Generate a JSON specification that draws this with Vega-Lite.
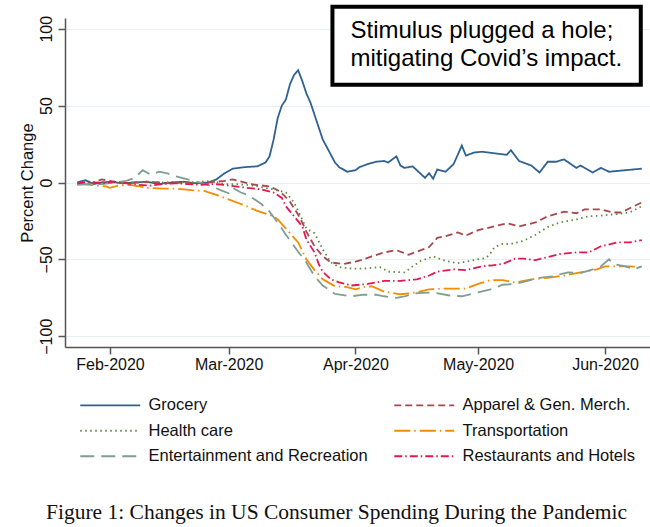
{
  "$schema": "https://vega.github.io/schema/vega-lite/v6.json",
  "width": 585,
  "height": 329,
  "autosize": {"type": "none"},
  "padding": {"left": 65, "top": 18, "right": 0, "bottom": 180},
  "background": "white",
  "config": {"view": {"stroke": null}},
  "title": {"text": "Figure 1: Changes in US Consumer Spending During the Pandemic", "orient": "bottom", "anchor": "middle", "font": "Liberation Serif", "fontSize": 21.5, "fontWeight": "normal", "color": "#111", "offset": 37, "dx": -21},
  "datasets": {
    "spend": [
      {"d":"2020-01-24","s":"G","v":0},{"d":"2020-01-26","s":"G","v":1.5},{"d":"2020-01-28","s":"G","v":-1},{"d":"2020-01-30","s":"G","v":0},{"d":"2020-02-01","s":"G","v":0.5},{"d":"2020-02-04","s":"G","v":-0.5},{"d":"2020-02-07","s":"G","v":0},{"d":"2020-02-10","s":"G","v":0.5},{"d":"2020-02-13","s":"G","v":-1},{"d":"2020-02-16","s":"G","v":0},{"d":"2020-02-19","s":"G","v":0.5},{"d":"2020-02-22","s":"G","v":-0.5},{"d":"2020-02-25","s":"G","v":0},{"d":"2020-02-27","s":"G","v":2},{"d":"2020-02-29","s":"G","v":6},{"d":"2020-03-02","s":"G","v":9},{"d":"2020-03-05","s":"G","v":10},{"d":"2020-03-08","s":"G","v":10.5},{"d":"2020-03-10","s":"G","v":13},{"d":"2020-03-11","s":"G","v":17},{"d":"2020-03-12","s":"G","v":28},{"d":"2020-03-13","s":"G","v":42},{"d":"2020-03-14","s":"G","v":50},{"d":"2020-03-15","s":"G","v":54},{"d":"2020-03-16","s":"G","v":64},{"d":"2020-03-17","s":"G","v":70},{"d":"2020-03-18","s":"G","v":73},{"d":"2020-03-19","s":"G","v":66},{"d":"2020-03-20","s":"G","v":58},{"d":"2020-03-21","s":"G","v":52},{"d":"2020-03-22","s":"G","v":44},{"d":"2020-03-23","s":"G","v":36},{"d":"2020-03-24","s":"G","v":28},{"d":"2020-03-25","s":"G","v":23},{"d":"2020-03-26","s":"G","v":18},{"d":"2020-03-27","s":"G","v":13},{"d":"2020-03-28","s":"G","v":10},{"d":"2020-03-30","s":"G","v":7},{"d":"2020-04-01","s":"G","v":8},{"d":"2020-04-02","s":"G","v":10},{"d":"2020-04-04","s":"G","v":12},{"d":"2020-04-06","s":"G","v":13.5},{"d":"2020-04-08","s":"G","v":14},{"d":"2020-04-09","s":"G","v":13},{"d":"2020-04-11","s":"G","v":17},{"d":"2020-04-12","s":"G","v":11},{"d":"2020-04-13","s":"G","v":9.5},{"d":"2020-04-15","s":"G","v":10.5},{"d":"2020-04-16","s":"G","v":8},{"d":"2020-04-18","s":"G","v":3},{"d":"2020-04-19","s":"G","v":6},{"d":"2020-04-20","s":"G","v":2.5},{"d":"2020-04-21","s":"G","v":8.5},{"d":"2020-04-23","s":"G","v":7},{"d":"2020-04-25","s":"G","v":12},{"d":"2020-04-27","s":"G","v":24},{"d":"2020-04-28","s":"G","v":17.5},{"d":"2020-04-30","s":"G","v":19.5},{"d":"2020-05-02","s":"G","v":20},{"d":"2020-05-05","s":"G","v":19},{"d":"2020-05-08","s":"G","v":18},{"d":"2020-05-09","s":"G","v":21},{"d":"2020-05-11","s":"G","v":14},{"d":"2020-05-14","s":"G","v":11},{"d":"2020-05-16","s":"G","v":6.5},{"d":"2020-05-18","s":"G","v":13.5},{"d":"2020-05-20","s":"G","v":13.5},{"d":"2020-05-22","s":"G","v":15},{"d":"2020-05-25","s":"G","v":9.5},{"d":"2020-05-26","s":"G","v":11},{"d":"2020-05-29","s":"G","v":6.5},{"d":"2020-05-31","s":"G","v":9.5},{"d":"2020-06-02","s":"G","v":7},{"d":"2020-06-06","s":"G","v":8},{"d":"2020-06-10","s":"G","v":9},
      {"d":"2020-01-24","s":"A","v":-0.5},{"d":"2020-01-27","s":"A","v":-1},{"d":"2020-01-30","s":"A","v":2},{"d":"2020-02-01","s":"A","v":1},{"d":"2020-02-04","s":"A","v":-0.5},{"d":"2020-02-07","s":"A","v":0},{"d":"2020-02-10","s":"A","v":0.5},{"d":"2020-02-13","s":"A","v":0},{"d":"2020-02-16","s":"A","v":-0.5},{"d":"2020-02-19","s":"A","v":0},{"d":"2020-02-22","s":"A","v":-0.5},{"d":"2020-02-25","s":"A","v":0},{"d":"2020-02-29","s":"A","v":1},{"d":"2020-03-02","s":"A","v":2},{"d":"2020-03-07","s":"A","v":-1.3},{"d":"2020-03-11","s":"A","v":-2.5},{"d":"2020-03-13","s":"A","v":-5},{"d":"2020-03-14","s":"A","v":-7},{"d":"2020-03-16","s":"A","v":-12.5},{"d":"2020-03-18","s":"A","v":-21},{"d":"2020-03-19","s":"A","v":-26},{"d":"2020-03-20","s":"A","v":-32},{"d":"2020-03-22","s":"A","v":-41.5},{"d":"2020-03-24","s":"A","v":-48},{"d":"2020-03-26","s":"A","v":-52},{"d":"2020-03-29","s":"A","v":-53},{"d":"2020-04-01","s":"A","v":-51.5},{"d":"2020-04-03","s":"A","v":-50},{"d":"2020-04-05","s":"A","v":-48},{"d":"2020-04-08","s":"A","v":-45.5},{"d":"2020-04-11","s":"A","v":-44},{"d":"2020-04-14","s":"A","v":-47},{"d":"2020-04-17","s":"A","v":-44},{"d":"2020-04-19","s":"A","v":-42},{"d":"2020-04-21","s":"A","v":-36},{"d":"2020-04-23","s":"A","v":-35},{"d":"2020-04-26","s":"A","v":-32.5},{"d":"2020-04-28","s":"A","v":-34.5},{"d":"2020-05-01","s":"A","v":-31},{"d":"2020-05-05","s":"A","v":-28.5},{"d":"2020-05-08","s":"A","v":-26.5},{"d":"2020-05-11","s":"A","v":-28.5},{"d":"2020-05-15","s":"A","v":-26},{"d":"2020-05-18","s":"A","v":-22},{"d":"2020-05-22","s":"A","v":-19},{"d":"2020-05-25","s":"A","v":-20},{"d":"2020-05-27","s":"A","v":-17.5},{"d":"2020-05-31","s":"A","v":-17.5},{"d":"2020-06-03","s":"A","v":-19.5},{"d":"2020-06-05","s":"A","v":-19.5},{"d":"2020-06-08","s":"A","v":-15.5},{"d":"2020-06-10","s":"A","v":-13},
      {"d":"2020-01-24","s":"H","v":-1},{"d":"2020-01-27","s":"H","v":-0.5},{"d":"2020-01-30","s":"H","v":0.5},{"d":"2020-02-02","s":"H","v":0},{"d":"2020-02-05","s":"H","v":-0.5},{"d":"2020-02-08","s":"H","v":0},{"d":"2020-02-11","s":"H","v":0.5},{"d":"2020-02-14","s":"H","v":0},{"d":"2020-02-17","s":"H","v":0.5},{"d":"2020-02-20","s":"H","v":0},{"d":"2020-02-23","s":"H","v":0.5},{"d":"2020-02-26","s":"H","v":1},{"d":"2020-02-29","s":"H","v":-1},{"d":"2020-03-03","s":"H","v":-1},{"d":"2020-03-07","s":"H","v":-2},{"d":"2020-03-12","s":"H","v":-4.5},{"d":"2020-03-15","s":"H","v":-6.5},{"d":"2020-03-17","s":"H","v":-13},{"d":"2020-03-19","s":"H","v":-24},{"d":"2020-03-20","s":"H","v":-30},{"d":"2020-03-22","s":"H","v":-33},{"d":"2020-03-24","s":"H","v":-43.5},{"d":"2020-03-26","s":"H","v":-52},{"d":"2020-03-28","s":"H","v":-55},{"d":"2020-03-31","s":"H","v":-56},{"d":"2020-04-03","s":"H","v":-56},{"d":"2020-04-07","s":"H","v":-55},{"d":"2020-04-09","s":"H","v":-58},{"d":"2020-04-13","s":"H","v":-58.5},{"d":"2020-04-15","s":"H","v":-54.5},{"d":"2020-04-17","s":"H","v":-51},{"d":"2020-04-20","s":"H","v":-48},{"d":"2020-04-23","s":"H","v":-51},{"d":"2020-04-26","s":"H","v":-52.5},{"d":"2020-04-29","s":"H","v":-51},{"d":"2020-05-03","s":"H","v":-49},{"d":"2020-05-04","s":"H","v":-46},{"d":"2020-05-05","s":"H","v":-42},{"d":"2020-05-07","s":"H","v":-40},{"d":"2020-05-09","s":"H","v":-40},{"d":"2020-05-12","s":"H","v":-38},{"d":"2020-05-15","s":"H","v":-34},{"d":"2020-05-18","s":"H","v":-29},{"d":"2020-05-21","s":"H","v":-26},{"d":"2020-05-25","s":"H","v":-24},{"d":"2020-05-28","s":"H","v":-22},{"d":"2020-05-31","s":"H","v":-21.5},{"d":"2020-06-04","s":"H","v":-20.5},{"d":"2020-06-07","s":"H","v":-19.5},{"d":"2020-06-10","s":"H","v":-15.5},
      {"d":"2020-01-24","s":"T","v":-0.5},{"d":"2020-01-27","s":"T","v":-1.5},{"d":"2020-01-31","s":"T","v":-2.5},{"d":"2020-02-01","s":"T","v":-3.5},{"d":"2020-02-03","s":"T","v":-2},{"d":"2020-02-06","s":"T","v":-1.5},{"d":"2020-02-10","s":"T","v":-3.5},{"d":"2020-02-14","s":"T","v":-4},{"d":"2020-02-17","s":"T","v":-4},{"d":"2020-02-21","s":"T","v":-5},{"d":"2020-02-24","s":"T","v":-5.5},{"d":"2020-02-27","s":"T","v":-8},{"d":"2020-03-01","s":"T","v":-11},{"d":"2020-03-03","s":"T","v":-13},{"d":"2020-03-05","s":"T","v":-15},{"d":"2020-03-08","s":"T","v":-18.5},{"d":"2020-03-12","s":"T","v":-22},{"d":"2020-03-13","s":"T","v":-24},{"d":"2020-03-15","s":"T","v":-30},{"d":"2020-03-18","s":"T","v":-39},{"d":"2020-03-20","s":"T","v":-50},{"d":"2020-03-22","s":"T","v":-57},{"d":"2020-03-24","s":"T","v":-63},{"d":"2020-03-27","s":"T","v":-67.5},{"d":"2020-03-30","s":"T","v":-68},{"d":"2020-04-01","s":"T","v":-69.5},{"d":"2020-04-03","s":"T","v":-68},{"d":"2020-04-05","s":"T","v":-67.5},{"d":"2020-04-08","s":"T","v":-71},{"d":"2020-04-12","s":"T","v":-72.7},{"d":"2020-04-16","s":"T","v":-71.5},{"d":"2020-04-19","s":"T","v":-69.5},{"d":"2020-04-23","s":"T","v":-69},{"d":"2020-04-28","s":"T","v":-69},{"d":"2020-05-01","s":"T","v":-66},{"d":"2020-05-04","s":"T","v":-63.5},{"d":"2020-05-07","s":"T","v":-63.5},{"d":"2020-05-10","s":"T","v":-65},{"d":"2020-05-14","s":"T","v":-63},{"d":"2020-05-18","s":"T","v":-62},{"d":"2020-05-22","s":"T","v":-60.5},{"d":"2020-05-26","s":"T","v":-58.5},{"d":"2020-05-30","s":"T","v":-56.5},{"d":"2020-06-01","s":"T","v":-54.5},{"d":"2020-06-04","s":"T","v":-54.5},{"d":"2020-06-07","s":"T","v":-54.5},{"d":"2020-06-10","s":"T","v":-55},
      {"d":"2020-01-24","s":"E","v":-1.5},{"d":"2020-01-27","s":"E","v":-1},{"d":"2020-01-30","s":"E","v":-1},{"d":"2020-02-02","s":"E","v":0},{"d":"2020-02-05","s":"E","v":1},{"d":"2020-02-07","s":"E","v":3},{"d":"2020-02-09","s":"E","v":8},{"d":"2020-02-11","s":"E","v":5},{"d":"2020-02-13","s":"E","v":7},{"d":"2020-02-15","s":"E","v":6},{"d":"2020-02-17","s":"E","v":4},{"d":"2020-02-20","s":"E","v":2},{"d":"2020-02-23","s":"E","v":0},{"d":"2020-02-26","s":"E","v":-2.5},{"d":"2020-02-28","s":"E","v":-5},{"d":"2020-03-01","s":"E","v":-7},{"d":"2020-03-02","s":"E","v":-3.5},{"d":"2020-03-04","s":"E","v":-6.5},{"d":"2020-03-06","s":"E","v":-8.5},{"d":"2020-03-09","s":"E","v":-14},{"d":"2020-03-11","s":"E","v":-19},{"d":"2020-03-13","s":"E","v":-26},{"d":"2020-03-15","s":"E","v":-34},{"d":"2020-03-18","s":"E","v":-45},{"d":"2020-03-20","s":"E","v":-52},{"d":"2020-03-22","s":"E","v":-61},{"d":"2020-03-24","s":"E","v":-67},{"d":"2020-03-27","s":"E","v":-72.5},{"d":"2020-03-31","s":"E","v":-74},{"d":"2020-04-03","s":"E","v":-73},{"d":"2020-04-06","s":"E","v":-73},{"d":"2020-04-08","s":"E","v":-74},{"d":"2020-04-11","s":"E","v":-75},{"d":"2020-04-13","s":"E","v":-74},{"d":"2020-04-16","s":"E","v":-72},{"d":"2020-04-20","s":"E","v":-71.5},{"d":"2020-04-24","s":"E","v":-73.5},{"d":"2020-04-27","s":"E","v":-74},{"d":"2020-05-01","s":"E","v":-71.5},{"d":"2020-05-04","s":"E","v":-69.5},{"d":"2020-05-07","s":"E","v":-66.5},{"d":"2020-05-10","s":"E","v":-66},{"d":"2020-05-13","s":"E","v":-64},{"d":"2020-05-16","s":"E","v":-62},{"d":"2020-05-19","s":"E","v":-61},{"d":"2020-05-23","s":"E","v":-58.5},{"d":"2020-05-26","s":"E","v":-59},{"d":"2020-05-29","s":"E","v":-56.5},{"d":"2020-05-31","s":"E","v":-54.5},{"d":"2020-06-02","s":"E","v":-50},{"d":"2020-06-03","s":"E","v":-53},{"d":"2020-06-06","s":"E","v":-54.5},{"d":"2020-06-08","s":"E","v":-56.5},{"d":"2020-06-10","s":"E","v":-54.5},
      {"d":"2020-01-24","s":"R","v":-0.5},{"d":"2020-01-27","s":"R","v":0.5},{"d":"2020-01-30","s":"R","v":-0.5},{"d":"2020-02-02","s":"R","v":0.5},{"d":"2020-02-05","s":"R","v":-0.5},{"d":"2020-02-08","s":"R","v":-1.5},{"d":"2020-02-11","s":"R","v":-2},{"d":"2020-02-14","s":"R","v":-1},{"d":"2020-02-17","s":"R","v":-0.5},{"d":"2020-02-20","s":"R","v":-1},{"d":"2020-02-23","s":"R","v":-1.5},{"d":"2020-02-26","s":"R","v":-1},{"d":"2020-02-28","s":"R","v":-1.3},{"d":"2020-03-04","s":"R","v":-3},{"d":"2020-03-09","s":"R","v":-4.5},{"d":"2020-03-12","s":"R","v":-6.5},{"d":"2020-03-14","s":"R","v":-10},{"d":"2020-03-15","s":"R","v":-15.5},{"d":"2020-03-17","s":"R","v":-22},{"d":"2020-03-19","s":"R","v":-28.5},{"d":"2020-03-20","s":"R","v":-37},{"d":"2020-03-22","s":"R","v":-45.5},{"d":"2020-03-23","s":"R","v":-53},{"d":"2020-03-24","s":"R","v":-58},{"d":"2020-03-26","s":"R","v":-63},{"d":"2020-03-28","s":"R","v":-65},{"d":"2020-03-31","s":"R","v":-67},{"d":"2020-04-04","s":"R","v":-66},{"d":"2020-04-08","s":"R","v":-64},{"d":"2020-04-12","s":"R","v":-64},{"d":"2020-04-16","s":"R","v":-63},{"d":"2020-04-19","s":"R","v":-60.5},{"d":"2020-04-21","s":"R","v":-58},{"d":"2020-04-25","s":"R","v":-56.5},{"d":"2020-04-28","s":"R","v":-57},{"d":"2020-05-02","s":"R","v":-54.5},{"d":"2020-05-04","s":"R","v":-54},{"d":"2020-05-07","s":"R","v":-53},{"d":"2020-05-10","s":"R","v":-49.5},{"d":"2020-05-12","s":"R","v":-49.5},{"d":"2020-05-15","s":"R","v":-50.5},{"d":"2020-05-18","s":"R","v":-48.5},{"d":"2020-05-21","s":"R","v":-46.5},{"d":"2020-05-25","s":"R","v":-45.5},{"d":"2020-05-28","s":"R","v":-45.5},{"d":"2020-05-31","s":"R","v":-41.5},{"d":"2020-06-04","s":"R","v":-39},{"d":"2020-06-07","s":"R","v":-39},{"d":"2020-06-10","s":"R","v":-37.5}
    ],
    "box": [{"d1":"2020-03-26T09:00:00Z","d2":"2020-06-09T18:00:00Z","v1":114.3,"v2":63.6}],
    "note": [
      {"d":"2020-03-30T19:00:00Z","v":94,"t":"Stimulus plugged a hole;"},
      {"d":"2020-03-30T19:00:00Z","v":75.5,"t":"mitigating Covid’s impact."}
    ]
  },
  "layer": [
    {
      "data": {"name": "spend"},
      "mark": {"type": "line", "strokeWidth": 1.8},
      "encoding": {
        "x": {
          "field": "d", "type": "temporal",
          "scale": {"type": "utc", "domain": [{"year": 2020, "month": 1, "date": 21, "utc": true}, {"year": 2020, "month": 6, "date": 12, "utc": true}]},
          "axis": {
            "title": null, "grid": false, "format": "%b-%Y",
            "values": [{"year": 2020, "month": 2, "date": 1, "utc": true}, {"year": 2020, "month": 3, "date": 1, "utc": true}, {"year": 2020, "month": 4, "date": 1, "utc": true}, {"year": 2020, "month": 5, "date": 1, "utc": true}, {"year": 2020, "month": 6, "date": 1, "utc": true}],
            "domainColor": "#555", "domainWidth": 1.5, "tickColor": "#555", "tickWidth": 1.5, "tickSize": 7,
            "labelFont": "Liberation Sans", "labelFontSize": 16, "labelColor": "#111", "labelPadding": 2, "labelFlush": false
          }
        },
        "y": {
          "field": "v", "type": "quantitative",
          "scale": {"domain": [-107, 107], "nice": false, "zero": false},
          "axis": {
            "title": "Percent Change", "titleFont": "Liberation Sans", "titleFontSize": 16.5, "titleFontWeight": "normal", "titleColor": "#111", "titlePadding": 3,
            "values": [-100, -50, 0, 50, 100], "grid": true, "gridColor": "#e6eff1", "gridWidth": 1.2,
            "domainColor": "#555", "domainWidth": 1.5, "tickColor": "#555", "tickWidth": 1.5, "tickSize": 7,
            "labelAngle": -90, "labelAlign": "center", "labelBaseline": "bottom", "labelPadding": 4,
            "labelFont": "Liberation Sans", "labelFontSize": 16, "labelColor": "#111", "labelFlush": false
          }
        },
        "color": {
          "field": "s", "type": "nominal",
          "scale": {"domain": ["G", "H", "E", "A", "T", "R"], "range": ["#2f6191", "#5f8a3c", "#7f9e94", "#a8474f", "#f28c00", "#e3184f"]},
          "legend": {
            "title": null, "orient": "none", "legendX": 37, "legendY": 379, "columns": 2, "columnPadding": 22, "rowPadding": 8.5,
            "padding": 0, "symbolType": "M-6,0H6", "symbolSize": 100, "symbolStrokeWidth": 1.8, "symbolFillColor": "transparent",
            "labelFont": "Liberation Sans", "labelFontSize": 16.5, "labelColor": "#111", "labelOffset": 30, "labelLimit": 400,
            "labelExpr": "datum.label == 'G' ? 'Grocery' : datum.label == 'A' ? 'Apparel & Gen. Merch.' : datum.label == 'H' ? 'Health care' : datum.label == 'T' ? 'Transportation' : datum.label == 'E' ? 'Entertainment and Recreation' : 'Restaurants and Hotels'"
          }
        },
        "strokeDash": {
          "field": "s", "type": "nominal",
          "scale": {"domain": ["G", "H", "E", "A", "T", "R"], "range": [[1, 0], [1.5, 3.5], [14, 7], [7, 4], [16, 4, 1.5, 4], [8, 3, 1.5, 3]]}
        }
      }
    },
    {
      "data": {"name": "box"},
      "mark": {"type": "rect", "fill": "white", "stroke": "black", "strokeWidth": 4},
      "encoding": {
        "x": {"field": "d1", "type": "temporal"},
        "x2": {"field": "d2"},
        "y": {"field": "v1", "type": "quantitative"},
        "y2": {"field": "v2"}
      }
    },
    {
      "data": {"name": "note"},
      "mark": {"type": "text", "align": "left", "baseline": "alphabetic", "font": "Liberation Sans", "fontSize": 24, "color": "black"},
      "encoding": {
        "x": {"field": "d", "type": "temporal"},
        "y": {"field": "v", "type": "quantitative"},
        "text": {"field": "t"}
      }
    }
  ]
}
